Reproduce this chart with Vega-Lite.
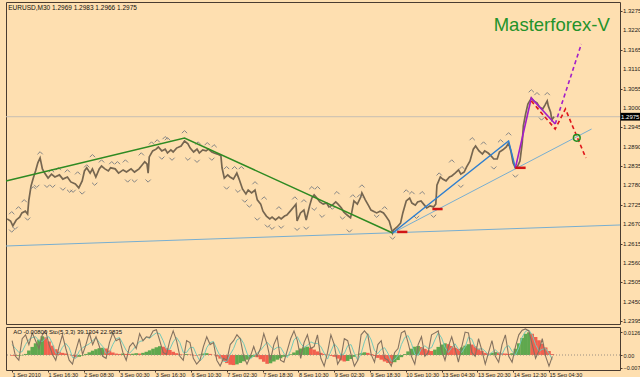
{
"$schema": "https://vega.github.io/schema/vega-lite/v6.json",
"background": "#fedfb0",
"padding": {"left": 2, "top": 1, "right": 0, "bottom": 0},
"spacing": 1,
"config": {"view": {"stroke": "#4a3c30", "strokeWidth": 1}, "font": "Liberation Sans", "axis": {"labelFont": "Liberation Sans", "labelColor": "#1a1a1a", "tickColor": "#4a3c30", "labelOverlap": false, "labelBound": false, "labelFlush": false}},
"datasets": {
"price": [{"i":0,"p":1.2685},{"i":3,"p":1.2679},{"i":5,"p":1.2665},{"i":8,"p":1.2682},{"i":11,"p":1.2690},{"i":13,"p":1.2702},{"i":16,"p":1.2707},{"i":18,"p":1.2699},{"i":19,"p":1.2736},{"i":21,"p":1.2778},{"i":23,"p":1.2801},{"i":25,"p":1.2821},{"i":27,"p":1.2844},{"i":29,"p":1.2858},{"i":31,"p":1.2827},{"i":33,"p":1.2815},{"i":36,"p":1.2801},{"i":39,"p":1.2812},{"i":42,"p":1.2804},{"i":46,"p":1.2810},{"i":49,"p":1.2798},{"i":53,"p":1.2804},{"i":56,"p":1.2790},{"i":60,"p":1.2784},{"i":63,"p":1.2773},{"i":66,"p":1.2793},{"i":68,"p":1.2821},{"i":70,"p":1.2830},{"i":73,"p":1.2815},{"i":75,"p":1.2827},{"i":78,"p":1.2804},{"i":81,"p":1.2827},{"i":83,"p":1.2835},{"i":86,"p":1.2827},{"i":89,"p":1.2821},{"i":91,"p":1.2830},{"i":95,"p":1.2827},{"i":98,"p":1.2815},{"i":102,"p":1.2824},{"i":105,"p":1.2818},{"i":109,"p":1.2827},{"i":112,"p":1.2818},{"i":116,"p":1.2827},{"i":118,"p":1.2835},{"i":121,"p":1.2847},{"i":123,"p":1.2841},{"i":124,"p":1.2815},{"i":125,"p":1.2861},{"i":128,"p":1.2878},{"i":131,"p":1.2883},{"i":133,"p":1.2889},{"i":136,"p":1.2878},{"i":139,"p":1.2883},{"i":141,"p":1.2872},{"i":144,"p":1.2881},{"i":146,"p":1.2875},{"i":149,"p":1.2886},{"i":153,"p":1.2892},{"i":156,"p":1.2906},{"i":159,"p":1.2898},{"i":161,"p":1.2886},{"i":164,"p":1.2875},{"i":167,"p":1.2883},{"i":169,"p":1.2872},{"i":172,"p":1.2881},{"i":175,"p":1.2878},{"i":177,"p":1.2883},{"i":180,"p":1.2875},{"i":182,"p":1.2872},{"i":185,"p":1.2869},{"i":188,"p":1.2864},{"i":189,"p":1.2830},{"i":191,"p":1.2801},{"i":194,"p":1.2810},{"i":196,"p":1.2804},{"i":199,"p":1.2798},{"i":202,"p":1.2815},{"i":204,"p":1.2798},{"i":207,"p":1.2770},{"i":210,"p":1.2756},{"i":212,"p":1.2767},{"i":215,"p":1.2759},{"i":218,"p":1.2767},{"i":220,"p":1.2739},{"i":223,"p":1.2727},{"i":225,"p":1.2707},{"i":228,"p":1.2693},{"i":231,"p":1.2685},{"i":233,"p":1.2690},{"i":236,"p":1.2682},{"i":239,"p":1.2690},{"i":241,"p":1.2685},{"i":244,"p":1.2693},{"i":246,"p":1.2696},{"i":249,"p":1.2707},{"i":252,"p":1.2719},{"i":254,"p":1.2727},{"i":255,"p":1.2679},{"i":258,"p":1.2702},{"i":261,"p":1.2710},{"i":263,"p":1.2682},{"i":266,"p":1.2722},{"i":268,"p":1.2744},{"i":270,"p":1.2753},{"i":273,"p":1.2742},{"i":275,"p":1.2733},{"i":278,"p":1.2727},{"i":281,"p":1.2730},{"i":283,"p":1.2719},{"i":286,"p":1.2724},{"i":289,"p":1.2733},{"i":291,"p":1.2727},{"i":294,"p":1.2716},{"i":296,"p":1.2705},{"i":299,"p":1.2696},{"i":302,"p":1.2688},{"i":303,"p":1.2702},{"i":305,"p":1.2736},{"i":308,"p":1.2727},{"i":311,"p":1.2747},{"i":312,"p":1.2759},{"i":315,"p":1.2739},{"i":318,"p":1.2722},{"i":320,"p":1.2710},{"i":323,"p":1.2705},{"i":325,"p":1.2702},{"i":328,"p":1.2707},{"i":331,"p":1.2702},{"i":333,"p":1.2693},{"i":336,"p":1.2679},{"i":339,"p":1.2645},{"i":340,"p":1.2654},{"i":343,"p":1.2662},{"i":346,"p":1.2673},{"i":348,"p":1.2702},{"i":351,"p":1.2736},{"i":354,"p":1.2744},{"i":356,"p":1.2730},{"i":359,"p":1.2724},{"i":361,"p":1.2733},{"i":364,"p":1.2736},{"i":367,"p":1.2724},{"i":369,"p":1.2716},{"i":372,"p":1.2722},{"i":375,"p":1.2719},{"i":377,"p":1.2727},{"i":378,"p":1.2781},{"i":381,"p":1.2804},{"i":383,"p":1.2798},{"i":386,"p":1.2793},{"i":389,"p":1.2804},{"i":391,"p":1.2807},{"i":394,"p":1.2815},{"i":397,"p":1.2824},{"i":399,"p":1.2812},{"i":402,"p":1.2818},{"i":404,"p":1.2832},{"i":407,"p":1.2849},{"i":410,"p":1.2883},{"i":412,"p":1.2892},{"i":415,"p":1.2878},{"i":418,"p":1.2869},{"i":420,"p":1.2878},{"i":423,"p":1.2872},{"i":425,"p":1.2866},{"i":428,"p":1.2855},{"i":431,"p":1.2855},{"i":433,"p":1.2875},{"i":436,"p":1.2881},{"i":439,"p":1.2889},{"i":441,"p":1.2900},{"i":443,"p":1.2878},{"i":445,"p":1.2844},{"i":447,"p":1.2830},{"i":449,"p":1.2835},{"i":451,"p":1.2849},{"i":453,"p":1.2900},{"i":454,"p":1.2949},{"i":456,"p":1.2983},{"i":458,"p":1.3011},{"i":460,"p":1.3022},{"i":461,"p":1.3028},{"i":463,"p":1.3020},{"i":466,"p":1.3014},{"i":468,"p":1.3003},{"i":471,"p":1.2997},{"i":473,"p":1.3008},{"i":475,"p":1.3020},{"i":476,"p":1.3005},{"i":478,"p":1.2988},{"i":479,"p":1.2966},{"i":481,"p":1.2975}],
"frac": [{"i":4,"p":1.2702,"t":"u"},{"i":10,"p":1.2716,"t":"u"},{"i":15,"p":1.2736,"t":"u"},{"i":23,"p":1.2773,"t":"u"},{"i":29,"p":1.2872,"t":"u"},{"i":39,"p":1.2821,"t":"u"},{"i":45,"p":1.2827,"t":"u"},{"i":53,"p":1.2821,"t":"u"},{"i":62,"p":1.2815,"t":"u"},{"i":70,"p":1.2835,"t":"u"},{"i":75,"p":1.2864,"t":"u"},{"i":83,"p":1.2849,"t":"u"},{"i":92,"p":1.2844,"t":"u"},{"i":97,"p":1.2844,"t":"u"},{"i":104,"p":1.2849,"t":"u"},{"i":118,"p":1.2869,"t":"u"},{"i":127,"p":1.2900,"t":"u"},{"i":132,"p":1.2906,"t":"u"},{"i":139,"p":1.2915,"t":"u"},{"i":141,"p":1.2912,"t":"u"},{"i":156,"p":1.2932,"t":"u"},{"i":168,"p":1.2900,"t":"u"},{"i":176,"p":1.2898,"t":"u"},{"i":182,"p":1.2892,"t":"u"},{"i":193,"p":1.2830,"t":"u"},{"i":200,"p":1.2830,"t":"u"},{"i":206,"p":1.2830,"t":"u"},{"i":218,"p":1.2787,"t":"u"},{"i":226,"p":1.2744,"t":"u"},{"i":239,"p":1.2716,"t":"u"},{"i":253,"p":1.2744,"t":"u"},{"i":261,"p":1.2736,"t":"u"},{"i":268,"p":1.2773,"t":"u"},{"i":273,"p":1.2773,"t":"u"},{"i":290,"p":1.2759,"t":"u"},{"i":304,"p":1.2750,"t":"u"},{"i":310,"p":1.2750,"t":"u"},{"i":312,"p":1.2778,"t":"u"},{"i":332,"p":1.2716,"t":"u"},{"i":351,"p":1.2764,"t":"u"},{"i":356,"p":1.2759,"t":"u"},{"i":365,"p":1.2759,"t":"u"},{"i":380,"p":1.2812,"t":"u"},{"i":391,"p":1.2849,"t":"u"},{"i":400,"p":1.2830,"t":"u"},{"i":409,"p":1.2912,"t":"u"},{"i":419,"p":1.2900,"t":"u"},{"i":434,"p":1.2906,"t":"u"},{"i":441,"p":1.2926,"t":"u"},{"i":461,"p":1.3048,"t":"u"},{"i":466,"p":1.3040,"t":"u"},{"i":475,"p":1.3040,"t":"u"},
{"i":4,"p":1.2651,"t":"d"},{"i":7,"p":1.2659,"t":"d"},{"i":18,"p":1.2685,"t":"d"},{"i":26,"p":1.2778,"t":"d"},{"i":35,"p":1.2778,"t":"d"},{"i":40,"p":1.2778,"t":"d"},{"i":49,"p":1.2770,"t":"d"},{"i":55,"p":1.2764,"t":"d"},{"i":58,"p":1.2764,"t":"d"},{"i":66,"p":1.2759,"t":"d"},{"i":77,"p":1.2784,"t":"d"},{"i":106,"p":1.2793,"t":"d"},{"i":112,"p":1.2793,"t":"d"},{"i":124,"p":1.2793,"t":"d"},{"i":136,"p":1.2858,"t":"d"},{"i":145,"p":1.2855,"t":"d"},{"i":159,"p":1.2855,"t":"d"},{"i":167,"p":1.2849,"t":"d"},{"i":180,"p":1.2855,"t":"d"},{"i":193,"p":1.2773,"t":"d"},{"i":203,"p":1.2764,"t":"d"},{"i":209,"p":1.2736,"t":"d"},{"i":213,"p":1.2722,"t":"d"},{"i":220,"p":1.2685,"t":"d"},{"i":229,"p":1.2665,"t":"d"},{"i":233,"p":1.2659,"t":"d"},{"i":241,"p":1.2662,"t":"d"},{"i":255,"p":1.2656,"t":"d"},{"i":263,"p":1.2659,"t":"d"},{"i":270,"p":1.2713,"t":"d"},{"i":277,"p":1.2693,"t":"d"},{"i":286,"p":1.2716,"t":"d"},{"i":295,"p":1.2688,"t":"d"},{"i":301,"p":1.2651,"t":"d"},{"i":325,"p":1.2693,"t":"d"},{"i":339,"p":1.2631,"t":"d"},{"i":360,"p":1.2690,"t":"d"},{"i":375,"p":1.2693,"t":"d"},{"i":399,"p":1.2778,"t":"d"},{"i":428,"p":1.2830,"t":"d"},{"i":447,"p":1.2807,"t":"d"},{"i":470,"p":1.2969,"t":"d"}],
"lines": [{"g":"lb1","i":-1,"p":1.26081},{"g":"lb1","i":539,"p":1.26677},{"g":"lb2","i":339,"p":1.2645},{"g":"lb2","i":514,"p":1.29401},
{"g":"green","i":-1,"p":1.27926},{"g":"green","i":156,"p":1.29146},{"g":"green","i":339,"p":1.2645},
{"g":"blue","i":339,"p":1.2645},{"g":"blue","i":441,"p":1.29061},{"g":"blue","i":447,"p":1.28295},
{"g":"purple","i":447,"p":1.28295},{"g":"purple","i":461,"p":1.30281},{"g":"purple","i":482,"p":1.29543},
{"g":"purpled","i":482,"p":1.29543},{"g":"purpled","i":505,"p":1.31814},
{"g":"redd","i":461,"p":1.30196},{"g":"redd","i":482,"p":1.29401},{"g":"redd","i":491,"p":1.29969},{"g":"redd","i":509,"p":1.28578}],
"ylab": [{"p":1.3275,"t":"1.3275"},{"p":1.322,"t":"1.3220"},{"p":1.3165,"t":"1.3165"},{"p":1.311,"t":"1.3110"},{"p":1.3055,"t":"1.3055"},{"p":1.3,"t":"1.3000"},{"p":1.2945,"t":"1.2945"},{"p":1.289,"t":"1.2890"},{"p":1.2835,"t":"1.2835"},{"p":1.278,"t":"1.2780"},{"p":1.2725,"t":"1.2725"},{"p":1.267,"t":"1.2670"},{"p":1.2615,"t":"1.2615"},{"p":1.256,"t":"1.2560"},{"p":1.2505,"t":"1.2505"},{"p":1.245,"t":"1.2450"},{"p":1.2395,"t":"1.2395"}],
"ind": [{"i":0,"ao":-0.0004,"c":"r","k":70,"d":60},{"i":3,"ao":-0.0005,"c":"r","k":30,"d":50},{"i":6,"ao":-0.0004,"c":"g","k":20,"d":40},{"i":9,"ao":-0.0002,"c":"g","k":75,"d":42},{"i":12,"ao":0.0006,"c":"g","k":85,"d":60},{"i":15,"ao":0.0025,"c":"g","k":60,"d":73},{"i":18,"ao":0.0045,"c":"g","k":90,"d":78},{"i":21,"ao":0.0065,"c":"g","k":70,"d":80},{"i":24,"ao":0.0085,"c":"g","k":50,"d":70},{"i":27,"ao":0.0104,"c":"g","k":85,"d":68},{"i":30,"ao":0.0098,"c":"r","k":95,"d":77},{"i":33,"ao":0.0075,"c":"r","k":60,"d":80},{"i":36,"ao":0.0052,"c":"r","k":35,"d":63},{"i":39,"ao":0.0032,"c":"r","k":20,"d":38},{"i":42,"ao":0.0018,"c":"r","k":55,"d":37},{"i":45,"ao":0.0012,"c":"r","k":85,"d":53},{"i":48,"ao":0.0008,"c":"r","k":50,"d":63},{"i":51,"ao":0.0002,"c":"r","k":20,"d":52},{"i":54,"ao":-0.0006,"c":"r","k":10,"d":27},{"i":57,"ao":-0.0013,"c":"r","k":45,"d":25},{"i":60,"ao":-0.0010,"c":"g","k":75,"d":43},{"i":63,"ao":-0.0003,"c":"g","k":35,"d":52},{"i":66,"ao":0.0006,"c":"g","k":60,"d":57},{"i":69,"ao":0.0015,"c":"g","k":90,"d":62},{"i":72,"ao":0.0024,"c":"g","k":60,"d":70},{"i":75,"ao":0.0032,"c":"g","k":80,"d":77},{"i":78,"ao":0.0038,"c":"g","k":55,"d":65},{"i":81,"ao":0.0040,"c":"g","k":30,"d":55},{"i":84,"ao":0.0036,"c":"r","k":25,"d":37},{"i":87,"ao":0.0025,"c":"r","k":65,"d":40},{"i":90,"ao":0.0014,"c":"r","k":90,"d":60},{"i":93,"ao":0.0008,"c":"r","k":70,"d":75},{"i":96,"ao":0.0006,"c":"r","k":75,"d":78},{"i":99,"ao":0.0008,"c":"g","k":40,"d":62},{"i":102,"ao":0.0006,"c":"r","k":20,"d":45},{"i":105,"ao":0.0005,"c":"r","k":55,"d":38},{"i":108,"ao":0.0007,"c":"g","k":65,"d":47},{"i":111,"ao":0.0010,"c":"g","k":50,"d":57},{"i":114,"ao":0.0008,"c":"r","k":88,"d":68},{"i":117,"ao":0.0012,"c":"g","k":70,"d":70},{"i":120,"ao":0.0018,"c":"g","k":80,"d":79},{"i":123,"ao":0.0026,"c":"g","k":78,"d":76},{"i":126,"ao":0.0035,"c":"g","k":95,"d":84},{"i":129,"ao":0.0043,"c":"g","k":98,"d":90},{"i":132,"ao":0.0049,"c":"g","k":70,"d":88},{"i":135,"ao":0.0046,"c":"r","k":40,"d":70},{"i":138,"ao":0.0038,"c":"r","k":35,"d":48},{"i":141,"ao":0.0028,"c":"r","k":70,"d":48},{"i":144,"ao":0.0018,"c":"r","k":95,"d":67},{"i":147,"ao":0.0010,"c":"r","k":70,"d":78},{"i":150,"ao":0.0004,"c":"r","k":30,"d":65},{"i":153,"ao":0.0002,"c":"r","k":20,"d":40},{"i":156,"ao":0.0005,"c":"g","k":70,"d":40},{"i":159,"ao":0.0003,"c":"r","k":65,"d":52},{"i":162,"ao":-0.0002,"c":"r","k":25,"d":53},{"i":165,"ao":-0.0004,"c":"r","k":10,"d":33},{"i":168,"ao":0.0003,"c":"g","k":20,"d":18},{"i":171,"ao":0.0008,"c":"g","k":55,"d":28},{"i":174,"ao":0.0010,"c":"g","k":80,"d":52},{"i":177,"ao":0.0006,"c":"r","k":60,"d":65},{"i":180,"ao":0.0001,"c":"r","k":65,"d":68},{"i":183,"ao":-0.0008,"c":"r","k":20,"d":48},{"i":186,"ao":-0.0020,"c":"r","k":5,"d":30},{"i":189,"ao":-0.0033,"c":"r","k":25,"d":17},{"i":192,"ao":-0.0045,"c":"r","k":20,"d":17},{"i":195,"ao":-0.0054,"c":"r","k":60,"d":35},{"i":198,"ao":-0.0056,"c":"r","k":70,"d":50},{"i":201,"ao":-0.0052,"c":"g","k":85,"d":72},{"i":204,"ao":-0.0044,"c":"g","k":75,"d":77},{"i":207,"ao":-0.0035,"c":"g","k":30,"d":63},{"i":210,"ao":-0.0026,"c":"g","k":10,"d":38},{"i":213,"ao":-0.0016,"c":"g","k":30,"d":23},{"i":216,"ao":-0.0010,"c":"g","k":55,"d":32},{"i":219,"ao":-0.0012,"c":"r","k":30,"d":38},{"i":222,"ao":-0.0024,"c":"r","k":50,"d":45},{"i":225,"ao":-0.0038,"c":"r","k":88,"d":56},{"i":228,"ao":-0.0049,"c":"r","k":60,"d":66},{"i":231,"ao":-0.0046,"c":"g","k":20,"d":56},{"i":234,"ao":-0.0036,"c":"g","k":60,"d":47},{"i":237,"ao":-0.0026,"c":"g","k":80,"d":53},{"i":240,"ao":-0.0018,"c":"g","k":20,"d":53},{"i":243,"ao":-0.0010,"c":"g","k":15,"d":38},{"i":246,"ao":-0.0004,"c":"g","k":45,"d":27},{"i":249,"ao":0.0004,"c":"g","k":75,"d":45},{"i":252,"ao":0.0014,"c":"g","k":95,"d":72},{"i":255,"ao":0.0026,"c":"g","k":70,"d":80},{"i":258,"ao":0.0036,"c":"g","k":25,"d":63},{"i":261,"ao":0.0043,"c":"g","k":65,"d":53},{"i":264,"ao":0.0046,"c":"g","k":85,"d":58},{"i":267,"ao":0.0040,"c":"r","k":50,"d":67},{"i":270,"ao":0.0030,"c":"r","k":55,"d":63},{"i":273,"ao":0.0020,"c":"r","k":85,"d":63},{"i":276,"ao":0.0012,"c":"r","k":25,"d":55},{"i":279,"ao":0.0006,"c":"r","k":5,"d":38},{"i":282,"ao":0.0001,"c":"r","k":40,"d":23},{"i":285,"ao":-0.0005,"c":"r","k":85,"d":43},{"i":288,"ao":-0.0010,"c":"r","k":60,"d":62},{"i":291,"ao":-0.0020,"c":"r","k":10,"d":52},{"i":294,"ao":-0.0030,"c":"r","k":25,"d":32},{"i":297,"ao":-0.0036,"c":"r","k":75,"d":37},{"i":300,"ao":-0.0033,"c":"g","k":70,"d":57},{"i":303,"ao":-0.0022,"c":"g","k":35,"d":60},{"i":306,"ao":-0.0010,"c":"g","k":5,"d":37},{"i":309,"ao":0.0002,"c":"g","k":20,"d":20},{"i":312,"ao":0.0010,"c":"g","k":85,"d":37},{"i":315,"ao":0.0015,"c":"g","k":95,"d":67},{"i":318,"ao":0.0012,"c":"r","k":85,"d":88},{"i":321,"ao":0.0005,"c":"r","k":35,"d":72},{"i":324,"ao":-0.0006,"c":"r","k":15,"d":45},{"i":327,"ao":-0.0016,"c":"r","k":60,"d":37},{"i":330,"ao":-0.0026,"c":"r","k":70,"d":48},{"i":333,"ao":-0.0036,"c":"r","k":25,"d":52},{"i":336,"ao":-0.0044,"c":"r","k":20,"d":38},{"i":339,"ao":-0.0047,"c":"r","k":5,"d":17},{"i":342,"ao":-0.0040,"c":"g","k":40,"d":22},{"i":345,"ao":-0.0028,"c":"g","k":50,"d":32},{"i":348,"ao":-0.0012,"c":"g","k":90,"d":60},{"i":351,"ao":0.0005,"c":"g","k":95,"d":78},{"i":354,"ao":0.0020,"c":"g","k":65,"d":83},{"i":357,"ao":0.0035,"c":"g","k":30,"d":63},{"i":360,"ao":0.0046,"c":"g","k":10,"d":35},{"i":363,"ao":0.0050,"c":"g","k":60,"d":33},{"i":366,"ao":0.0044,"c":"r","k":80,"d":50},{"i":369,"ao":0.0034,"c":"r","k":30,"d":57},{"i":372,"ao":0.0026,"c":"r","k":40,"d":50},{"i":375,"ao":0.0022,"c":"r","k":85,"d":52},{"i":378,"ao":0.0030,"c":"g","k":90,"d":72},{"i":381,"ao":0.0045,"c":"g","k":95,"d":90},{"i":384,"ao":0.0058,"c":"g","k":45,"d":77},{"i":387,"ao":0.0065,"c":"g","k":20,"d":53},{"i":390,"ao":0.0060,"c":"r","k":55,"d":40},{"i":393,"ao":0.0050,"c":"r","k":80,"d":52},{"i":396,"ao":0.0040,"c":"r","k":50,"d":62},{"i":399,"ao":0.0034,"c":"r","k":15,"d":48},{"i":402,"ao":0.0042,"c":"g","k":55,"d":40},{"i":405,"ao":0.0052,"c":"g","k":92,"d":54},{"i":408,"ao":0.0060,"c":"g","k":90,"d":79},{"i":411,"ao":0.0058,"c":"r","k":40,"d":74},{"i":414,"ao":0.0048,"c":"r","k":30,"d":53},{"i":417,"ao":0.0035,"c":"r","k":75,"d":48},{"i":420,"ao":0.0022,"c":"r","k":45,"d":50},{"i":423,"ao":0.0012,"c":"r","k":10,"d":43},{"i":426,"ao":0.0008,"c":"r","k":40,"d":32},{"i":429,"ao":0.0012,"c":"g","k":70,"d":40},{"i":432,"ao":0.0016,"c":"g","k":30,"d":47},{"i":435,"ao":0.0014,"c":"r","k":15,"d":38},{"i":438,"ao":0.0010,"c":"r","k":60,"d":35},{"i":441,"ao":0.0008,"c":"r","k":85,"d":53},{"i":444,"ao":0.0006,"c":"r","k":30,"d":57},{"i":447,"ao":0.0010,"c":"g","k":15,"d":43},{"i":450,"ao":0.0035,"c":"g","k":55,"d":33},{"i":453,"ao":0.0065,"c":"g","k":85,"d":52},{"i":456,"ao":0.0095,"c":"g","k":97,"d":79},{"i":459,"ao":0.0118,"c":"g","k":100,"d":94},{"i":462,"ao":0.0126,"c":"g","k":95,"d":97},{"i":465,"ao":0.0118,"c":"r","k":60,"d":85},{"i":468,"ao":0.0100,"c":"r","k":25,"d":60},{"i":471,"ao":0.0082,"c":"r","k":45,"d":43},{"i":474,"ao":0.0062,"c":"r","k":75,"d":48},{"i":477,"ao":0.0042,"c":"r","k":30,"d":50},{"i":480,"ao":0.0022,"c":"r","k":5,"d":37},{"i":483,"ao":0.0005,"c":"r","k":30,"d":22}]
},
"vconcat": [
{
"width": 614, "height": 322,
"layer": [
{"data": {"values": [{"p": 1.2975}]}, "mark": {"type": "rule", "color": "#c6beb2", "strokeWidth": 1},
 "encoding": {"y": {"field": "p", "type": "quantitative", "scale": {"domain": [1.23867, 1.33006], "nice": false, "zero": false},
  "axis": {"orient": "right", "values": [1.3275,1.322,1.3165,1.311,1.3055,1.3,1.2945,1.289,1.2835,1.278,1.2725,1.267,1.2615,1.256,1.2505,1.245,1.2395], "labels": false, "title": null, "grid": false, "domain": false, "tickSize": 2}}}},
{"data": {"name": "lines"}, "transform": [{"filter": "datum.g=='lb1' || datum.g=='lb2'"}], "mark": {"type": "line", "color": "#78aed0", "strokeWidth": 1},
 "encoding": {"x": {"field": "i", "type": "quantitative", "scale": {"domain": [-1, 539], "nice": false, "zero": false}, "axis": null}, "y": {"field": "p", "type": "quantitative"}, "detail": {"field": "g"}}},
{"data": {"name": "price"}, "mark": {"type": "line", "color": "#766650", "strokeWidth": 1.7},
 "encoding": {"x": {"field": "i", "type": "quantitative", "axis": null}, "y": {"field": "p", "type": "quantitative"}}},
{"data": {"name": "frac"}, "transform": [{"filter": "datum.t=='u'"}], "mark": {"type": "point", "shape": "M-1,0.5L0,-0.5L1,0.5", "filled": false, "stroke": "#858585", "strokeWidth": 1, "size": 28, "opacity": 1},
 "encoding": {"x": {"field": "i", "type": "quantitative", "axis": null}, "y": {"field": "p", "type": "quantitative"}}},
{"data": {"name": "frac"}, "transform": [{"filter": "datum.t=='d'"}], "mark": {"type": "point", "shape": "M-1,-0.5L0,0.5L1,-0.5", "filled": false, "stroke": "#858585", "strokeWidth": 1, "size": 28, "opacity": 1},
 "encoding": {"x": {"field": "i", "type": "quantitative", "axis": null}, "y": {"field": "p", "type": "quantitative"}}},
{"data": {"name": "lines"}, "transform": [{"filter": "datum.g=='green'"}], "mark": {"type": "line", "color": "#2e8a22", "strokeWidth": 1.5},
 "encoding": {"x": {"field": "i", "type": "quantitative", "axis": null}, "y": {"field": "p", "type": "quantitative"}}},
{"data": {"name": "lines"}, "transform": [{"filter": "datum.g=='blue'"}], "mark": {"type": "line", "color": "#2f7fcf", "strokeWidth": 1.5},
 "encoding": {"x": {"field": "i", "type": "quantitative", "axis": null}, "y": {"field": "p", "type": "quantitative"}}},
{"data": {"name": "lines"}, "transform": [{"filter": "datum.g=='purple'"}], "mark": {"type": "line", "color": "#a31fc8", "strokeWidth": 1.6},
 "encoding": {"x": {"field": "i", "type": "quantitative", "axis": null}, "y": {"field": "p", "type": "quantitative"}}},
{"data": {"name": "lines"}, "transform": [{"filter": "datum.g=='purpled'"}], "mark": {"type": "line", "color": "#a31fc8", "strokeWidth": 1.6, "strokeDash": [4, 3]},
 "encoding": {"x": {"field": "i", "type": "quantitative", "axis": null}, "y": {"field": "p", "type": "quantitative"}}},
{"data": {"name": "lines"}, "transform": [{"filter": "datum.g=='redd'"}], "mark": {"type": "line", "color": "#e0161a", "strokeWidth": 1.6, "strokeDash": [4, 3]},
 "encoding": {"x": {"field": "i", "type": "quantitative", "axis": null}, "y": {"field": "p", "type": "quantitative"}}},
{"data": {"values": [{"i": 343, "i2": 352, "p": 1.2648}, {"i": 374, "i2": 383, "p": 1.2713}, {"i": 447, "i2": 456, "p": 1.283}]}, "mark": {"type": "rule", "color": "#d01515", "strokeWidth": 2.5},
 "encoding": {"x": {"field": "i", "type": "quantitative", "axis": null}, "x2": {"field": "i2"}, "y": {"field": "p", "type": "quantitative"}}},
{"data": {"values": [{"i": 501, "p": 1.2915}]}, "mark": {"type": "point", "shape": "circle", "filled": false, "stroke": "#1e8c1e", "strokeWidth": 1.5, "size": 45, "opacity": 1},
 "encoding": {"x": {"field": "i", "type": "quantitative", "axis": null}, "y": {"field": "p", "type": "quantitative"}}},
{"data": {"values": [{"i": 1, "p": 1.3283, "t": "EURUSD,M30  1.2969 1.2983 1.2966 1.2975"}]}, "mark": {"type": "text", "align": "left", "baseline": "middle", "fontSize": 6.5, "color": "#111111"},
 "encoding": {"x": {"field": "i", "type": "quantitative", "axis": null}, "y": {"field": "p", "type": "quantitative"}, "text": {"field": "t"}}},
{"data": {"values": [{"i": 479, "p": 1.3234, "t": "Masterforex-V"}]}, "mark": {"type": "text", "align": "center", "baseline": "middle", "fontSize": 18.5, "color": "#24922a"},
 "encoding": {"x": {"field": "i", "type": "quantitative", "axis": null}, "y": {"field": "p", "type": "quantitative"}, "text": {"field": "t"}}},
{"data": {"name": "ylab"}, "mark": {"type": "text", "align": "left", "baseline": "middle", "fontSize": 6, "color": "#1a1a1a", "dx": 3},
 "encoding": {"x": {"datum": 539, "type": "quantitative", "axis": null}, "y": {"field": "p", "type": "quantitative"}, "text": {"field": "t"}}},
{"data": {"values": [{"i": 539.5, "i2": 557, "p": 1.2986, "p2": 1.2964}]}, "mark": {"type": "rect", "color": "#000000"},
 "encoding": {"x": {"field": "i", "type": "quantitative", "axis": null}, "x2": {"field": "i2"}, "y": {"field": "p", "type": "quantitative"}, "y2": {"field": "p2"}}},
{"data": {"values": [{"i": 548, "p": 1.2975, "t": "1.2975"}]}, "mark": {"type": "text", "align": "center", "baseline": "middle", "fontSize": 6, "color": "#ffffff"},
 "encoding": {"x": {"field": "i", "type": "quantitative", "axis": null}, "y": {"field": "p", "type": "quantitative"}, "text": {"field": "t"}}}
]
},
{
"width": 614, "height": 43,
"layer": [
{"data": {"name": "ind"}, "mark": {"type": "bar", "width": 3.6},
 "encoding": {"x": {"field": "i", "type": "quantitative", "scale": {"domain": [-1, 539], "nice": false, "zero": false},
   "axis": {"values": [0,32,64,96,128,160,192,224,256,288,320,352,384,416,448,480], "labelExpr": "['1 Sep 2010','1 Sep 16:30','2 Sep 08:30','3 Sep 00:30','3 Sep 16:30','6 Sep 10:30','7 Sep 02:30','7 Sep 18:30','8 Sep 10:30','9 Sep 02:30','9 Sep 18:30','10 Sep 10:30','13 Sep 04:30','13 Sep 20:30','14 Sep 12:30','15 Sep 04:30'][round(datum.value/32)]", "labelAlign": "left", "labelBaseline": "top", "labelFontSize": 5.5, "tickSize": 2, "labelPadding": 0, "title": null, "grid": false, "domain": false, "labelFlush": false, "labelOverlap": false, "labelBound": false}},
  "y": {"field": "ao", "type": "quantitative", "scale": {"domain": [-0.00833, 0.01556], "nice": false, "zero": false},
   "axis": {"orient": "right", "values": [0.01264, 0, -0.00712], "labelExpr": "datum.value==0 ? '0.00' : format(datum.value, '.5f')", "title": null, "grid": false, "domain": false, "tickSize": 2, "labelFontSize": 5.5, "labelPadding": 1, "labelOverlap": false, "labelBound": false, "labelFlush": false}},
  "color": {"field": "c", "type": "nominal", "scale": {"domain": ["g", "r"], "range": ["#5fa84e", "#f2604e"]}, "legend": null}}},
{"data": {"values": [{"v": 0}]}, "mark": {"type": "rule", "color": "#9a8e80", "strokeDash": [1, 2], "strokeWidth": 1},
 "encoding": {"y": {"field": "v", "type": "quantitative", "scale": {"domain": [-0.00833, 0.01556], "nice": false, "zero": false}, "axis": null}}},
{"data": {"name": "ind"}, "mark": {"type": "line", "color": "#74c9b8", "strokeWidth": 1},
 "encoding": {"x": {"field": "i", "type": "quantitative"}, "y": {"field": "d", "type": "quantitative", "scale": {"domain": [-5, 105], "nice": false, "zero": false}, "axis": null}}},
{"data": {"name": "ind"}, "mark": {"type": "line", "color": "#85725f", "strokeWidth": 1.1},
 "encoding": {"x": {"field": "i", "type": "quantitative"}, "y": {"field": "k", "type": "quantitative", "scale": {"domain": [-5, 105], "nice": false, "zero": false}, "axis": null}}},
{"data": {"values": [{"i": 1, "ao": 0.0128, "t": "AO -0.00800  Sto(5,3,3) 39.1304 22.9835"}]}, "mark": {"type": "text", "align": "left", "baseline": "middle", "fontSize": 6, "color": "#111111"},
 "encoding": {"x": {"field": "i", "type": "quantitative"}, "y": {"field": "ao", "type": "quantitative", "scale": {"domain": [-0.00833, 0.01556], "nice": false, "zero": false}, "axis": null}, "text": {"field": "t"}}}
],
"resolve": {"scale": {"y": "independent"}, "axis": {"y": "independent"}}
}
]
}
